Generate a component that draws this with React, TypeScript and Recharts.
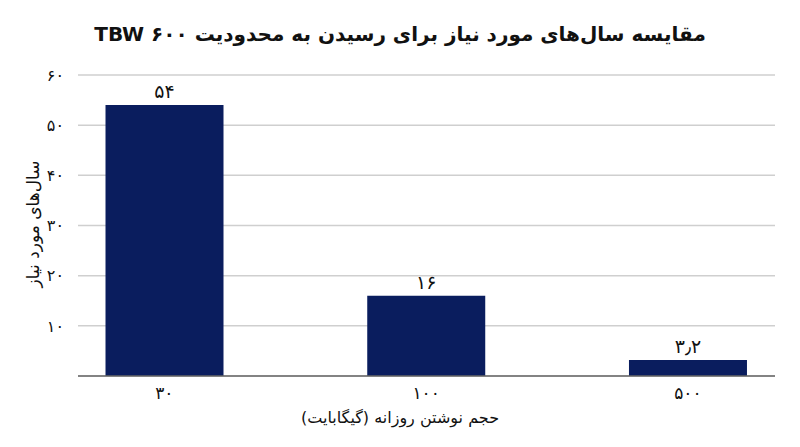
import { BarChart, Bar, XAxis, YAxis, CartesianGrid, LabelList } from 'recharts';

const categories = ['30', '100', '500'];
const yearsNeeded = [54, 16, 3.2];
const yTicks = [0, 10, 20, 30, 40, 50, 60];

const title = 'مقایسه سال‌های مورد نیاز برای رسیدن به محدودیت TBW ۶۰۰';
const yLabel = 'سال‌های مورد نیاز';
const xLabel = 'حجم نوشتن روزانه (گیگابایت)';

// bars sit on numeric slots 0..2, axis slightly trimmed on both sides like the original
const data = categories.map((c, i) => ({ slot: i, name: c, years: yearsNeeded[i] }));

// western digits -> persian digits
const toFa = (v: number | string) =>
  String(v)
    .replace(/\d/g, (d) => '۰۱۲۳۴۵۶۷۸۹'[Number(d)])
    .replace('.', '٫');

const font = '"DejaVu Sans", sans-serif';

export default function App() {
  return (
    <div style={{ position: 'absolute', left: 0, top: 0, width: 800, height: 447, background: '#fff', fontFamily: font }}>
      <div style={{ position: 'absolute', top: 22, left: 0, width: 800, textAlign: 'center', fontSize: 20, fontWeight: 'bold', color: '#111' }} dir="rtl">
        {title}
      </div>
      <div
        style={{
          position: 'absolute', left: 33, top: 224, transform: 'translate(-50%, -50%) rotate(-90deg)',
          whiteSpace: 'nowrap', fontSize: 17, color: '#111'
        }}
        dir="rtl"
      >
        {yLabel}
      </div>
      <div style={{ position: 'absolute', top: 408, left: 0, width: 800, textAlign: 'center', fontSize: 16, color: '#111' }} dir="rtl">
        {xLabel}
      </div>
      <BarChart width={800} height={447} data={data} margin={{ top: 75, right: 25, bottom: 31, left: 28 }}>
        <CartesianGrid vertical={false} stroke="#cfcfcf" strokeWidth={1.5} />
        <XAxis
          dataKey="slot"
          type="number"
          domain={[-0.33, 2.333]}
          ticks={[0, 1, 2]}
          allowDataOverflow
          height={40}
          tickLine={false}
          axisLine={{ stroke: '#666', strokeWidth: 1.5 }}
          tick={{ fill: '#111', fontSize: 17, fontFamily: font }}
          tickFormatter={(v: number) => toFa(categories[v] ?? '')}
          tickMargin={5}
        />
        <YAxis
          width={50}
          domain={[0, 60]}
          ticks={yTicks}
          axisLine={false}
          tickLine={false}
          tick={{ fill: '#111', fontSize: 16, fontFamily: font }}
          tickFormatter={(v: number) => (v === 0 ? '' : toFa(v))}
          tickMargin={8}
        />
        <Bar dataKey="years" fill="#0a1d5e" barSize={118} isAnimationActive={false}>
          <LabelList
            dataKey="years"
            position="top"
            offset={7}
            formatter={(v: number) => toFa(v)}
            style={{ fill: '#111', fontSize: 19, fontFamily: font }}
          />
        </Bar>
      </BarChart>
    </div>
  );
}
